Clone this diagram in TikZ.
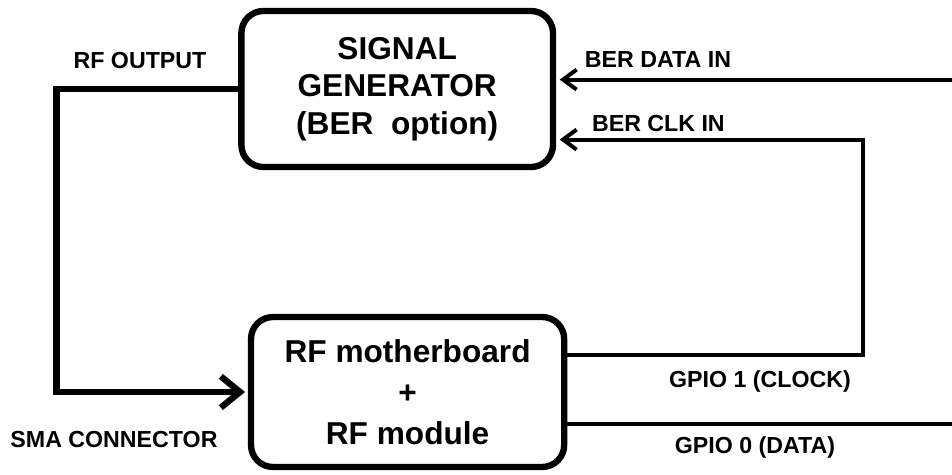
\documentclass[tikz,border=0pt]{standalone}
\usepackage{fontspec}
\setmainfont{Liberation Sans}
\usetikzlibrary{arrows.meta,positioning}

\tikzset{
	block/.style={draw, line width=4.5pt, rounded corners=0.55cm, align=center, inner sep=0pt},
	tag/.style={font=\fontsize{16.5}{18}\selectfont\bfseries, anchor=base, inner sep=0pt},
	rfline/.style={line width=4.5pt, -{Straight Barb[length=0.48cm, width=0.78cm]}},
	sigline/.style={line width=2.8pt},
	sigarrow/.style={sigline, -{Straight Barb[length=0.34cm, width=0.5cm]}, shorten >=2.5pt},
}

\begin{document}
\begin{tikzpicture}
	\useasboundingbox (0,0) rectangle (23.8,11.85);

	% the two boxes
	\node [block, minimum width=7.79cm, minimum height=3.9cm, font=\fontsize{22.5}{26.6}\selectfont\bfseries] (siggen) at (9.93,9.625) {SIGNAL\\GENERATOR\\(BER\ \ option)};
	\node [block, minimum width=7.83cm, minimum height=3.75cm, font=\fontsize{22.5}{29.2}\selectfont\bfseries] (rfboard) at (10.19,2.05) {RF motherboard\\+\\RF module};

	% bend points of the signal lines
	\coordinate (rfbend) at (1.41,9.625);
	\coordinate (datatop) at (23.8,9.86);
	\coordinate (clktop) at (21.575,8.36);
	\coordinate (clkbend) at (21.575,2.975);
	\coordinate (dataout) at (23.8,1.25);

	% RF output into the SMA connector
	\draw [rfline, shorten >=2pt] (siggen.west) -- (rfbend) |- (rfboard.west);

	% BER inputs
	\draw [sigarrow] (datatop) -- (datatop -| siggen.east);
	\draw [sigarrow] (rfboard.east |- clkbend) -- (clkbend) -- (clktop) -- (clktop -| siggen.east);
	\draw [sigline] (rfboard.east |- dataout) -- (dataout);

	% Line labels
	\node [tag] (rfout) at (3.5,10.14) {RF OUTPUT};
	\node [tag] (berdata) at (16.45,10.16) {BER DATA IN};
	\node [tag] (berclk) at (16.46,8.575) {BER CLK IN};
	\node [tag] (sma) at (2.85,0.675) {SMA CONNECTOR};
	\node [tag] (gpioclk) at (19.0,2.175) {GPIO 1 (CLOCK)};
	\node [tag] (gpiodata) at (18.875,0.525) {GPIO 0 (DATA)};
\end{tikzpicture}
\end{document}
